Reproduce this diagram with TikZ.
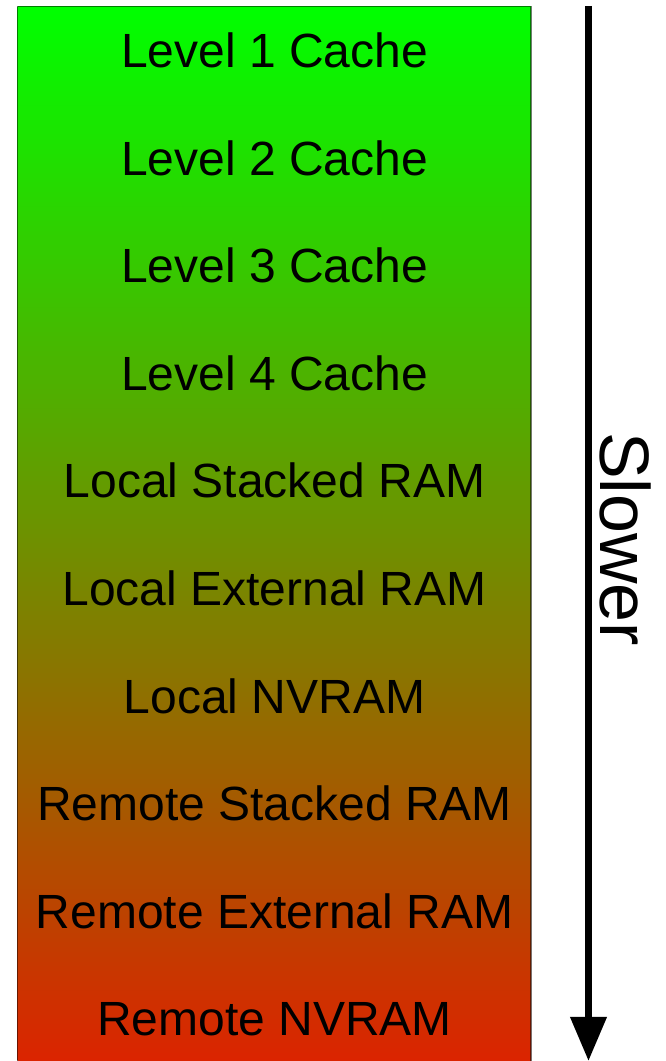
\documentclass[tikz,border=0pt]{standalone}
\usepackage{fontspec}
\setmainfont{Liberation Sans}
\usetikzlibrary{arrows.meta}
\definecolor{fastgreen}{RGB}{0,255,0}
\definecolor{slowred}{RGB}{220,35,0}
\tikzset{
  memory stack/.style={rectangle, inner sep=0pt, minimum width=513.5pt,
    minimum height=1058pt, top color=fastgreen, bottom color=slowred,
    draw=black, draw opacity=0.5, line width=1.2pt},
  tier/.style={anchor=base, inner sep=0pt, font=\fontsize{48}{57}\selectfont},
  speed arrow/.style={line width=7pt, -{Triangle[length=44pt,width=35pt]}},
  speed label/.style={anchor=base, rotate=-90, inner sep=0pt,
    font=\fontsize{70}{82}\selectfont}
}
\begin{document}
\begin{tikzpicture}[x=1pt,y=1pt]
  \useasboundingbox (0,0) rectangle (666,1061);
  % gradient column of memory tiers
  \node[memory stack] (stack) at (274.25,525.5) {};
  % tier labels, fastest at the top
  \node[tier] (l1)  at (274.5,993.5) {Level 1 Cache};
  \node[tier] (l2)  at (274.5,885.9) {Level 2 Cache};
  \node[tier] (l3)  at (274.5,778.3) {Level 3 Cache};
  \node[tier] (l4)  at (274.5,670.7) {Level 4 Cache};
  \node[tier] (lsr) at (274.5,563.1) {Local Stacked RAM};
  \node[tier] (ler) at (274.5,455.5) {Local External RAM};
  \node[tier] (lnv) at (274.5,347.9) {Local NVRAM};
  \node[tier] (rsr) at (274.5,240.3) {Remote Stacked RAM};
  \node[tier] (rer) at (274.5,132.7) {Remote External RAM};
  \node[tier] (rnv) at (274.5,25.1)  {Remote NVRAM};
  % speed direction
  \coordinate (fastend) at (588.5,1055);
  \coordinate (slowend) at (588.5,0);
  \draw[speed arrow] (fastend) -- (slowend);
  \node[speed label] (slower) at (600,522) {Slower};
\end{tikzpicture}
\end{document}
